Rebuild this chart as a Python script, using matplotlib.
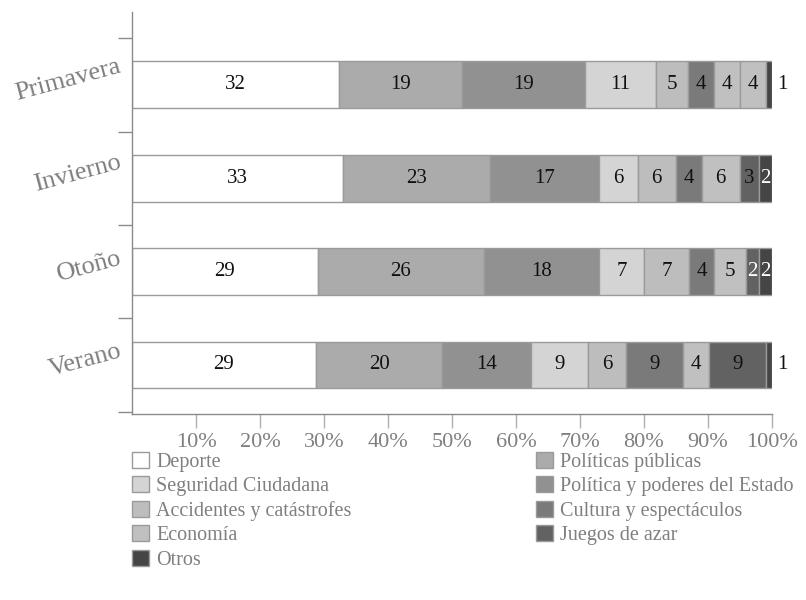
import numpy as np
import matplotlib
matplotlib.use("Agg")
import matplotlib.pyplot as plt
from matplotlib.patches import Patch

plt.rcParams["font.family"] = ["Liberation Serif", "DejaVu Serif"]

# seasons, bottom to top
seasons = ["Verano", "Otoño", "Invierno", "Primavera"]

# counts per topic, same season order
deporte = [29, 29, 33, 32]
politicas_publicas = [20, 26, 23, 19]
politica_estado = [14, 18, 17, 19]
seguridad = [9, 7, 6, 11]
accidentes = [6, 7, 6, 5]
cultura = [9, 4, 4, 4]
economia = [4, 5, 6, 4]
juegos = [9, 2, 3, 4]
otros = [1, 2, 2, 1]

topics = ["Deporte", "Políticas públicas", "Política y poderes del Estado",
          "Seguridad Ciudadana", "Accidentes y catástrofes",
          "Cultura y espectáculos", "Economía", "Juegos de azar", "Otros"]
series = [deporte, politicas_publicas, politica_estado, seguridad,
          accidentes, cultura, economia, juegos, otros]
colors = ["#ffffff", "#ababab", "#919191", "#d4d4d4", "#bdbdbd",
          "#7a7a7a", "#c0c0c0", "#626262", "#454545"]

# the spring "Juegos de azar" block is printed in the light grey
cell_colors = {(7, 3): "#c0c0c0"}

xticks = [0.1 * i for i in range(1, 11)]
xticklabels = ["10%", "20%", "30%", "40%", "50%", "60%", "70%", "80%", "90%", "100%"]

edge = "#9a9a9a"
axis_gray = "#8a8a8a"
text_gray = "#7f7f7f"

data = np.array(series, dtype=float)
totals = data.sum(axis=0)
shares = data / totals

fig = plt.figure(figsize=(8.06, 6.0), dpi=100)
ax = fig.add_axes([132 / 806, 1 - 414 / 600, 640 / 806, 402 / 600])

y = np.arange(len(seasons))
left = np.zeros(len(seasons))
for k in range(len(series)):
    fc = [cell_colors.get((k, i), colors[k]) for i in range(len(seasons))]
    ax.barh(y, shares[k], left=left, height=0.5, color=fc,
            edgecolor=edge, linewidth=1.0)
    for i in range(len(seasons)):
        v = int(data[k, i])
        xc = left[i] + shares[k, i] / 2
        if v <= 1:
            ax.text(left[i] + shares[k, i] + 0.008, y[i], str(v), ha="left",
                    va="center", fontsize=15, color="#111111")
        elif v == 2:
            ax.text(xc, y[i], str(v), ha="center", va="center",
                    fontsize=15, color="white")
        else:
            ax.text(xc, y[i], str(v), ha="center", va="center",
                    fontsize=15, color="#111111")
    left += shares[k]

ax.set_xlim(0, 1.0)
ax.set_ylim(-0.525, 3.78)

ax.set_xticks(xticks)
ax.set_xticklabels(xticklabels, fontsize=16, color=text_gray)
ax.set_yticks([-0.5, 0.5, 1.5, 2.5, 3.5])
ax.set_yticklabels([])
ax.tick_params(axis="x", length=10, width=1, color="#b0b0b0", pad=4)
ax.tick_params(axis="y", length=10, width=1, color=axis_gray)

for s in ["top", "right"]:
    ax.spines[s].set_visible(False)
for s in ["left", "bottom"]:
    ax.spines[s].set_color(axis_gray)
    ax.spines[s].set_linewidth(1.0)

for i, name in enumerate(seasons):
    ax.text(-0.013, y[i] + 0.05, name, transform=ax.get_yaxis_transform(),
            ha="right", va="center", rotation=15, fontsize=19, color=text_gray)

# legend in two columns
handles = [Patch(facecolor=colors[k], edgecolor=edge, label=topics[k])
           for k in range(len(topics))]
left_col = [0, 3, 4, 6, 8]
right_col = [1, 2, 5, 7]
leg_kw = dict(frameon=False, fontsize=14.5, handlelength=0.85, handleheight=0.85,
              handletextpad=0.35, labelspacing=0.22, borderaxespad=0,
              borderpad=0, labelcolor=text_gray)
fig.legend([handles[k] for k in left_col], [topics[k] for k in left_col],
           loc="upper left", bbox_to_anchor=(132 / 806, 1 - 452 / 600), **leg_kw)
fig.legend([handles[k] for k in right_col], [topics[k] for k in right_col],
           loc="upper left", bbox_to_anchor=(536 / 806, 1 - 452 / 600), **leg_kw)

fig.savefig("out.png", dpi=100)
